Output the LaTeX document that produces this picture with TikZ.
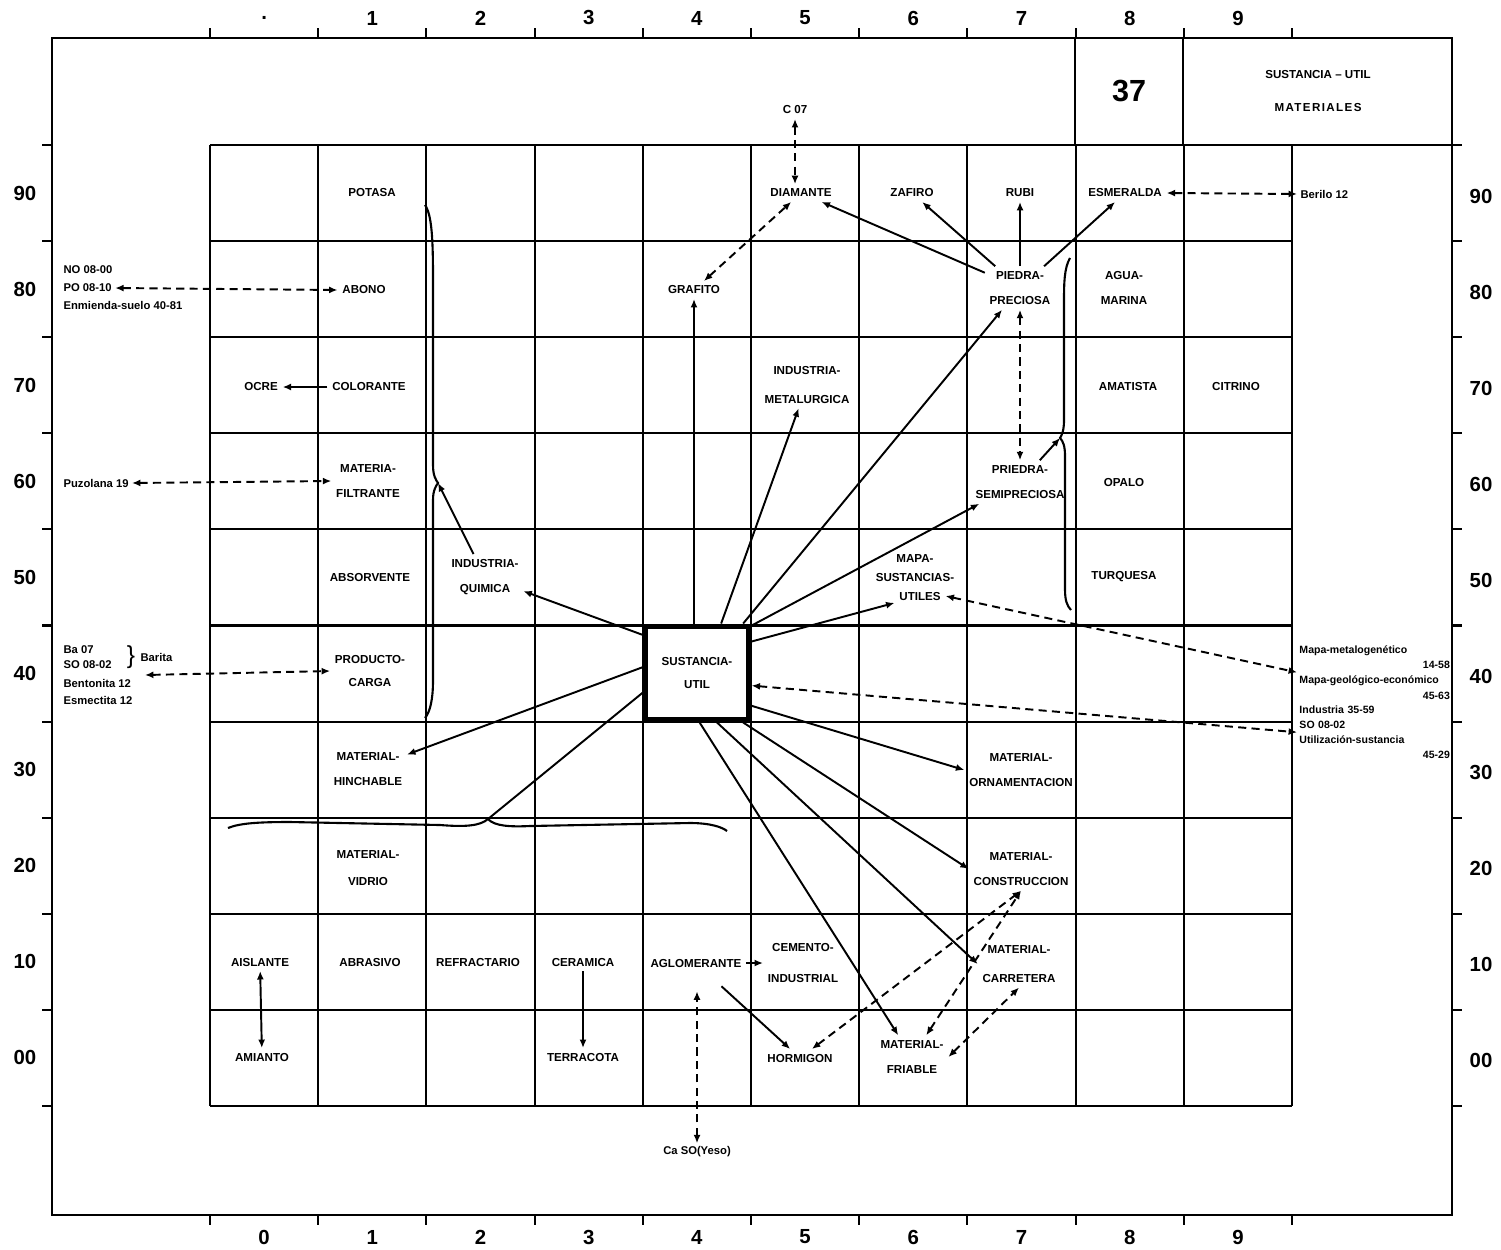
\documentclass[tikz,border=0pt]{standalone}
\usepackage{fontspec}
\setmainfont{Liberation Sans}
\usetikzlibrary{arrows.meta,calc}
\begin{document}
\begin{tikzpicture}[x=0.1mm,y=-0.1mm,
  lbl/.style={font=\fontsize{3.3}{7.3}\selectfont\bfseries, align=center, inner sep=1.2pt},
  sm/.style={font=\fontsize{3.2}{4.4}\selectfont\bfseries, inner sep=0.8pt},
  smr/.style={font=\fontsize{3.0}{4.35}\selectfont\bfseries, inner sep=0.5pt, text width=42.8pt, align=left, anchor=north west},
  num/.style={font=\fontsize{5.8}{7}\selectfont\bfseries, inner sep=0pt},
  gl/.style={line width=0.6pt},
  frm/.style={line width=0.75pt},
  plain/.style={line width=0.55pt},
  conn/.style={line width=0.55pt, -{Latex[length=2.4pt,width=2pt]}},
  conntwo/.style={line width=0.55pt, {Latex[length=2.4pt,width=2pt]}-{Latex[length=2.4pt,width=2pt]}},
  dconn/.style={line width=0.55pt, dash pattern=on 2.3pt off 1.5pt, {Latex[length=2.4pt,width=2pt]}-{Latex[length=2.4pt,width=2pt]}},
  brc/.style={line width=0.6pt}
]
\fill[white] (0,0) rectangle (1501,1249);
\useasboundingbox (0,0) rectangle (1501,1249);

% outer frame
\draw[frm] (52,38) rectangle (1452,1215);
% title box
\draw[frm] (1075,38) -- (1075,145);
\draw[frm] (1183,38) -- (1183,145);
\draw[gl] (210,145) -- (1452,145);

% grid
\foreach \i in {1,...,10} {
  \pgfmathsetmacro\yy{145+96.1*\i}
  \draw[gl] (210,\yy) -- (1292,\yy);
}
\foreach \i in {0,...,10} {
  \pgfmathsetmacro\xx{210+108.2*\i}
  \draw[gl] (\xx,145) -- (\xx,1106);
  \draw[gl] (\xx,38) -- (\xx,28);
  \draw[gl] (\xx,1215) -- (\xx,1225);
  \pgfmathsetmacro\yy{145+96.1*\i}
  \draw[gl] (52,\yy) -- (42,\yy);
  \draw[gl] (1452,\yy) -- (1462,\yy);
}

% axis labels
\foreach \i/\t in {0/.,1/1,2/2,3/3,4/4,5/5,6/6,7/7,8/8,9/9} {
  \pgfmathsetmacro\xx{210+108.2*(\i+0.5)}
  \node[num] (top\i) at (\xx,18) {\t};
}
\foreach \i/\t in {0/0,1/1,2/2,3/3,4/4,5/5,6/6,7/7,8/8,9/9} {
  \pgfmathsetmacro\xx{210+108.2*(\i+0.5)}
  \node[num] (bot\i) at (\xx,1237) {\t};
}
\foreach \i/\t in {0/90,1/80,2/70,3/60,4/50,5/40,6/30,7/20,8/10,9/00} {
  \pgfmathsetmacro\yy{145+96.1*(\i+0.5)}
  \node[num] (lft\i) at (25,\yy) {\t};
  \node[num] (rgt\i) at (1481,\yy+3) {\t};
}

% title
\node[font=\fontsize{8.7}{10}\selectfont\bfseries, inner sep=0pt] (num37) at (1129,91) {37};
\node[lbl] (tit1) at (1318,75) {SUSTANCIA -- UTIL};
\node[lbl] (tit2) at (1318,108) {{\addfontfeature{LetterSpace=12}MATERIALES}};

% cell labels
\node[lbl] (potasa) at (372,193) {POTASA};
\node[lbl] (diamante) at (801,193) {DIAMANTE};
\node[lbl] (zafiro) at (912,193) {ZAFIRO};
\node[lbl] (rubi) at (1020,193) {RUBI};
\node[lbl] (esmeralda) at (1125,193) {ESMERALDA};
\node[sm,anchor=west] (berilo) at (1297,194) {Berilo 12};
\node[lbl] (c07) at (795,110) {C 07};
\node[lbl] (abono) at (364,290) {ABONO};
\node[lbl] (grafito) at (694,290) {GRAFITO};
\node[lbl] (preciosa) at (1020,288) {PIEDRA-\\PRECIOSA};
\node[lbl] (agua) at (1124,288) {AGUA-\\MARINA};
\node[lbl] (ocre) at (261,387) {OCRE};
\node[lbl] (colorante) at (369,387) {COLORANTE};
\node[lbl] (metalurgica) at (807,385) {INDUSTRIA-\\[0.8pt]METALURGICA};
\node[lbl] (amatista) at (1128,387) {AMATISTA};
\node[lbl] (citrino) at (1236,387) {CITRINO};
\node[lbl] (filtrante) at (368,481) {MATERIA-\\FILTRANTE};
\node[lbl] (semipreciosa) at (1020,482) {PRIEDRA-\\SEMIPRECIOSA};
\node[lbl] (opalo) at (1124,482) {OPALO};
\node[lbl] (absorvente) at (370,577) {ABSORVENTE};
\node[lbl] (quimica) at (485,577) {INDUSTRIA-\\QUIMICA};
\node[lbl] (mapa) at (915,559) {MAPA-};
\node[lbl] (sustancias) at (915,577) {SUSTANCIAS-};
\node[lbl] (utiles) at (920,596) {UTILES};
\node[lbl] (turquesa) at (1124,577) {TURQUESA};
\node[lbl] (producto) at (370,671) {PRODUCTO-\\[-1pt]CARGA};
\node[lbl, draw, line width=1.45pt, minimum width=29.6pt, minimum height=26.7pt] (su) at (697,673) {SUSTANCIA-\\[-1pt]UTIL};
\node[lbl] (hinchable) at (368,769) {MATERIAL-\\HINCHABLE};
\node[lbl] (ornamentacion) at (1021,770) {MATERIAL-\\ORNAMENTACION};
\node[lbl] (vidrio) at (368,868) {MATERIAL-\\[0.5pt]VIDRIO};
\node[lbl] (construccion) at (1021,869) {MATERIAL-\\CONSTRUCCION};
\node[lbl] (aislante) at (260,962) {AISLANTE};
\node[lbl] (abrasivo) at (370,962) {ABRASIVO};
\node[lbl] (refractario) at (478,962) {REFRACTARIO};
\node[lbl] (ceramica) at (583,962) {CERAMICA};
\node[lbl] (aglomerante) at (696,963) {AGLOMERANTE};
\node[lbl] (cemento) at (803,963) {CEMENTO-\\[1.3pt]INDUSTRIAL};
\node[lbl] (carretera) at (1019,964) {MATERIAL-\\[1pt]CARRETERA};
\node[lbl] (amianto) at (262,1057) {AMIANTO};
\node[lbl] (terracota) at (583,1057) {TERRACOTA};
\node[lbl] (hormigon) at (800,1058) {HORMIGON};
\node[lbl] (friable) at (912,1057) {MATERIAL-\\FRIABLE};
\node[sm] (yeso) at (697,1152) {Ca SO(Yeso)};

% side texts, left
\node[sm,anchor=west] (no) at (60,270) {NO 08-00};
\node[sm,anchor=west] (po) at (60,288) {PO 08-10};
\node[sm,anchor=west] (enm) at (60,305) {Enmienda-suelo 40-81};
\node[sm,anchor=west] (puz) at (60,483) {Puzolana 19};
\node[sm,anchor=west,align=left] (ba) at (60,657) {Ba 07\\SO 08-02};
\node[inner sep=0pt, font=\fontsize{7}{8}\selectfont] (bracechar) at (131,657) {\}};
\node[sm,anchor=west] (barita) at (137,657) {Barita};
\node[sm,anchor=west] (bent) at (60,683) {Bentonita 12};
\node[sm,anchor=west] (esm) at (60,700) {Esmectita 12};
\coordinate (baend) at (145,675);

% side texts, right
\node[smr] (maprt) at (1297,643)
  {Mapa-metalogenético\\\mbox{}\hfill 14-58\\Mapa-geológico-económico\\\mbox{}\hfill 45-63};
\node[smr] (indrt) at (1297,703)
  {Industria 35-59\\SO 08-02\\Utilización-sustancia\\\mbox{}\hfill 45-29};

% braces
\coordinate (lbtip) at (438,483);
\coordinate (rbtip) at (1060,438);
\coordinate (hbtip) at (488,819);
\draw[brc] (425,205) .. controls (432,215) and (433,240) .. (433,280) -- (433,465)
  .. controls (433,476) and (436,480) .. (lbtip) .. controls (436,486) and (433,490) .. (433,500)
  -- (433,680) .. controls (433,700) and (430,712) .. (425,718);
\draw[brc] (1070,258) .. controls (1064,268) and (1064,285) .. (1064,300) -- (1064,420)
  .. controls (1064,430) and (1062,435) .. (rbtip) .. controls (1063,441) and (1065,446) .. (1065,456)
  -- (1065,590) .. controls (1065,600) and (1067,606) .. (1071,610);
\draw[brc] (228,828) .. controls (240,823) and (260,822) .. (290,822) -- (440,825)
  .. controls (465,827) and (480,826) .. (hbtip) .. controls (494,826) and (510,827) .. (530,826)
  -- (690,823) .. controls (710,823) and (722,827) .. (727,831);

% connectors from the central box
\draw[conn] (grafito |- su.north) -- (grafito.south);
\draw[conn] (su.64) -- (metalurgica);
\draw[conn] (su.47) -- (preciosa);
\draw[conn] (su.41) -- (semipreciosa);
\draw[conn] (su.30) -- (utiles);
\draw[conn] (su.329) -- (ornamentacion.west);
\draw[conn] (su.313) -- (construccion.west);
\draw[conn] (su.292.6) -- (carretera.west);
\draw[conn] (su.273.6) -- (friable);
\draw[conn] (su.145) -- (quimica);
\draw[conn] (su.174.7) -- (hinchable);
\draw[plain] (su.200.3) -- (hbtip);
\draw[conn] (quimica) -- (lbtip);
\draw[conn] (semipreciosa) -- (rbtip);

% gems
\draw[conn] (preciosa) -- (diamante);
\draw[conn] (preciosa) -- (zafiro);
\draw[conn] (preciosa) -- (rubi);
\draw[conn] (preciosa) -- (esmeralda);

% other solid
\draw[conn] (colorante) -- (ocre);
\draw[conntwo] (aislante) -- (amianto);
\draw[conn] (ceramica) -- (terracota);
\draw[conn] (aglomerante) -- (cemento);
\draw[conn, shorten <=6pt] (aglomerante) -- (hormigon);

% dashed
\draw[dconn] (c07) -- (c07 |- diamante.north);
\draw[dconn] (grafito) -- (diamante);
\draw[dconn] (preciosa.south) -- (semipreciosa.north);
\draw[dconn] (esmeralda.east) -- (berilo.west);
\draw[dconn] (po.east) -- (abono.west);
\draw[dconn] (puz.east) -- (filtrante.west);
\draw[dconn] (baend) -- (producto.west);
\draw[dconn] (utiles.east) -- (maprt.west);
\draw[dconn] (su.347.5) -- (indrt.west);
\draw[dconn, shorten >=5.5pt] (yeso.north) -- (yeso |- aglomerante.south);
\draw[dconn] (hormigon) -- (construccion.south);
\draw[dconn] (friable) -- (construccion.south);
\draw[dconn] (friable.east) -- (carretera.south);
\end{tikzpicture}
\end{document}
